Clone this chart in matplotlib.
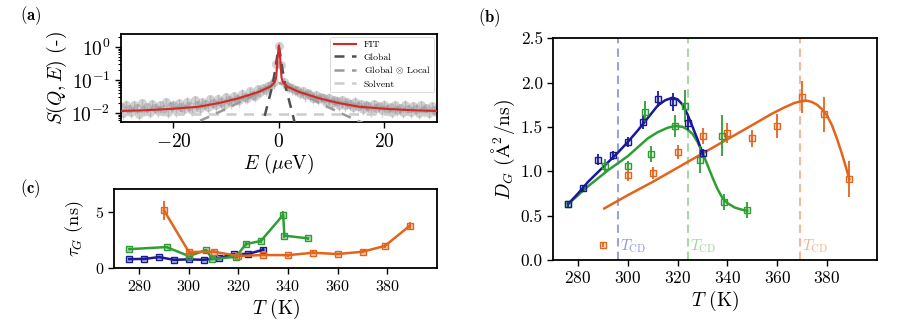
import numpy as np
import matplotlib
matplotlib.use("Agg")
import matplotlib.pyplot as plt

plt.rcParams['font.family'] = 'serif'
plt.rcParams['font.serif'] = ['cmr10']
plt.rcParams['mathtext.fontset'] = 'cm'
plt.rcParams['axes.formatter.use_mathtext'] = True
plt.rcParams['axes.unicode_minus'] = True

# ---------------- panel (a) data ----------------
E_data = np.linspace(-30, 30, 121)
S_data = [0.015, 0.010, 0.018, 0.013, 0.011, 0.017, 0.014, 0.0095, 0.020, 0.0125,
          0.015, 0.011, 0.019, 0.014, 0.012, 0.017, 0.0128, 0.021, 0.011, 0.016,
          0.018, 0.012, 0.020, 0.015, 0.013, 0.022, 0.016, 0.0125, 0.024, 0.017,
          0.014, 0.021, 0.019, 0.015, 0.026, 0.020, 0.017, 0.027, 0.022, 0.018,
          0.030, 0.024, 0.021, 0.033, 0.027, 0.024, 0.039, 0.031, 0.028, 0.045,
          0.036, 0.033, 0.052, 0.044, 0.058, 0.050, 0.066, 0.072, 0.085, 0.30,
          1.05,
          0.28, 0.09, 0.068, 0.062, 0.056, 0.049, 0.050, 0.040, 0.045, 0.034,
          0.040, 0.036, 0.029, 0.035, 0.026, 0.031, 0.028, 0.022, 0.029, 0.020,
          0.025, 0.023, 0.018, 0.024, 0.017, 0.021, 0.019, 0.015, 0.022, 0.016,
          0.019, 0.013, 0.018, 0.016, 0.012, 0.019, 0.014, 0.0165, 0.012, 0.018,
          0.013, 0.015, 0.011, 0.017, 0.0125, 0.014, 0.0105, 0.018, 0.013, 0.011,
          0.016, 0.0135, 0.010, 0.017, 0.012, 0.014, 0.0098, 0.016, 0.0125, 0.011]

E_fit = [-30, -25, -20, -15.2, -11.4, -7.6, -3.8, -1.6, -0.8, -0.5, -0.25, 0,
         0.25, 0.5, 0.8, 1.6, 3.8, 7.6, 11.4, 15.2, 20, 25, 30]
S_fit = [0.0115, 0.0122, 0.0135, 0.0155, 0.020, 0.028, 0.044, 0.063, 0.085, 0.12, 0.45, 1.12,
         0.45, 0.12, 0.085, 0.063, 0.044, 0.028, 0.020, 0.0155, 0.0135, 0.0122, 0.0115]

E_glob = [-3.5, -2.9, -2.0, -1.3, -0.7, -0.3, 0, 0.3, 0.7, 1.3, 2.0, 2.9, 3.5]
S_glob = [0.0025, 0.006, 0.022, 0.06, 0.2, 0.55, 1.0, 0.55, 0.2, 0.06, 0.022, 0.006, 0.0025]

E_gl = [-18, -15, -12, -9, -6, -3, -1, 0, 1, 3, 6, 9, 12, 15, 18]
S_gl = [0.0036, 0.0058, 0.0095, 0.016, 0.028, 0.05, 0.075, 0.08, 0.075, 0.05, 0.028, 0.016,
        0.0095, 0.0058, 0.0036]

E_solv = [-30, 30]
S_solv = [0.0091, 0.0091]

# ---------------- panel (b) data ----------------
T_blue = [276, 282, 288, 294, 300, 306, 312, 318, 324, 330]
D_blue = [0.63, 0.81, 1.13, 1.18, 1.33, 1.55, 1.81, 1.78, 1.54, 1.20]
D_blue_err = [0.03, 0.04, 0.06, 0.05, 0.06, 0.07, 0.09, 0.10, 0.08, 0.05]

T_green = [276, 291, 300, 307, 309.5, 319, 323, 329, 338, 338.5, 348]
D_green = [0.63, 1.06, 1.06, 1.67, 1.19, 1.51, 1.73, 1.13, 1.40, 0.65, 0.56]
D_green_err = [0.03, 0.08, 0.05, 0.12, 0.09, 0.12, 0.18, 0.15, 0.23, 0.09, 0.09]

T_orange = [290, 300, 310, 320, 330, 340, 350, 360, 370, 379, 389]
D_orange = [0.17, 0.96, 0.98, 1.22, 1.40, 1.43, 1.37, 1.51, 1.84, 1.64, 0.91]
D_orange_err = [0.03, 0.07, 0.07, 0.08, 0.09, 0.11, 0.10, 0.14, 0.18, 0.20, 0.20]

Tfit_blue = [276, 280, 284, 288, 292, 296, 300, 304, 308, 312, 315, 318, 320, 322, 324, 326, 328, 330]
Dfit_blue = [0.63, 0.75, 0.88, 0.99, 1.10, 1.21, 1.33, 1.46, 1.60, 1.74, 1.80, 1.83, 1.81, 1.75,
             1.64, 1.50, 1.36, 1.20]

Tfit_green = [276, 280, 284, 288, 292, 296, 300, 304, 308, 312, 316, 319, 322, 324, 326, 328,
              330, 332, 334, 336, 338, 340, 343, 346, 348]
Dfit_green = [0.63, 0.73, 0.83, 0.92, 1.01, 1.09, 1.17, 1.27, 1.37, 1.44, 1.49, 1.51, 1.50, 1.47,
              1.42, 1.33, 1.21, 1.07, 0.93, 0.80, 0.70, 0.64, 0.59, 0.565, 0.555]

Tfit_orange = [290.5, 300, 310, 320, 330, 340, 350, 358, 363, 367, 370, 372, 374, 376, 378, 380,
               382, 384, 386, 388, 389]
Dfit_orange = [0.58, 0.73, 0.88, 1.04, 1.20, 1.36, 1.52, 1.65, 1.72, 1.77, 1.79, 1.795, 1.78, 1.75,
               1.70, 1.63, 1.52, 1.37, 1.20, 1.01, 0.91]

T_cd = [296, 324, 369]

# ---------------- panel (c) data ----------------
tau_blue = [0.82, 0.84, 1.0, 0.76, 0.80, 0.76, 0.90, 1.26, 1.28, 1.65]
tau_blue_err = [0.08, 0.08, 0.1, 0.08, 0.08, 0.08, 0.08, 0.1, 0.1, 0.15]
tau_green = [1.70, 1.88, 1.09, 1.62, 0.82, 1.03, 2.15, 2.41, 4.71, 2.88, 2.65]
tau_green_err = [0.12, 0.12, 0.1, 0.12, 0.1, 0.1, 0.15, 0.15, 0.3, 0.2, 0.15]
tau_orange = [5.1, 1.45, 1.47, 1.10, 1.18, 1.17, 1.38, 1.27, 1.47, 1.98, 3.75]
tau_orange_err = [0.8, 0.15, 0.15, 0.12, 0.12, 0.12, 0.12, 0.12, 0.15, 0.15, 0.3]

# colors
c_blue = '#1a1a96'
c_green = '#2e9e34'
c_orange = '#e3641c'

fig = plt.figure(figsize=(9.01, 3.29), dpi=100)

# ---------------- panel (a) ----------------
axa = fig.add_axes([0.134, 0.628, 0.351, 0.269])
S_arr = np.array(S_data)
axa.errorbar(E_data, S_arr, yerr=0.35 * S_arr, fmt='o', ms=6.5, color='#8f8f8f',
             alpha=0.4, elinewidth=1.0, mec='none', zorder=1)
axa.plot(E_fit, S_fit, color='#d62728', lw=1.5, label='FIT', zorder=4)
axa.plot(E_glob, S_glob, color='#505050', lw=1.8, ls=(0, (4, 3)), label='Global', zorder=3)
axa.plot(E_gl, S_gl, color='#9a9a9a', lw=1.8, ls=(0, (4, 3)), label=r'Global $\otimes$ Local', zorder=3)
axa.plot(E_solv, S_solv, color='#cccccc', lw=1.8, ls=(0, (4, 3)), label='Solvent', zorder=2)
axa.set_yscale('log')
axa.set_xlim(-30, 30)
axa.set_ylim(0.0052, 2.5)
axa.set_xticks([-20, 0, 20])
axa.tick_params(labelsize=14, length=4, width=1)
axa.tick_params(which='minor', length=2.5, width=0.8)
axa.set_xlabel(r'$E$ ($\mu$eV)', fontsize=14, labelpad=1)
axa.set_ylabel(r'$S(Q,E)$ (-)', fontsize=14, labelpad=2)
leg = axa.legend(loc='upper right', fontsize=7, handlelength=2.2, borderaxespad=0.3,
                 labelspacing=0.35, frameon=True, fancybox=True)
leg.get_frame().set_linewidth(0.6)
for s in axa.spines.values():
    s.set_linewidth(1.3)

# ---------------- panel (b) ----------------
axb = fig.add_axes([0.614, 0.210, 0.359, 0.674])
for T, D, Derr, Tf, Df, col in [
        (T_orange, D_orange, D_orange_err, Tfit_orange, Dfit_orange, c_orange),
        (T_green, D_green, D_green_err, Tfit_green, Dfit_green, c_green),
        (T_blue, D_blue, D_blue_err, Tfit_blue, Dfit_blue, c_blue)]:
    axb.plot(Tf, Df, color=col, lw=1.8, zorder=3)
    axb.errorbar(T, D, yerr=Derr, fmt='s', ms=5, color=col, mfc=matplotlib.colors.to_rgba(col, 0.15),
                 mec=col, mew=1.0, elinewidth=1.3, zorder=4, ls='none')
for tc, col in zip(T_cd, ['#8090c8', '#90d090', '#f0a880']):
    axb.axvline(tc, color=col, alpha=0.8, lw=1.5, ls=(0, (4, 2.5)), zorder=1)
    axb.text(tc + 0.8, 0.16, r'$T_{\rm CD}$', color=col, alpha=0.9, fontsize=11,
             va='center', ha='left')
axb.set_xlim(270, 400)
axb.set_ylim(0, 2.5)
axb.set_xticks([280, 300, 320, 340, 360, 380])
axb.set_yticks([0.0, 0.5, 1.0, 1.5, 2.0, 2.5])
axb.yaxis.set_major_formatter(matplotlib.ticker.FormatStrFormatter('%.1f'))
axb.tick_params(labelsize=12.5, length=4, width=1)
axb.set_xlabel(r'$T$ (K)', fontsize=14, labelpad=2)
axb.set_ylabel(r'$D_G$ ($\mathrm{\AA}^2$/ns)', fontsize=14, labelpad=3)
for s in axb.spines.values():
    s.set_linewidth(1.3)

# ---------------- panel (c) ----------------
axc = fig.add_axes([0.127, 0.184, 0.358, 0.242])
for T, tau, terr, col in [(T_blue, tau_blue, tau_blue_err, c_blue),
                          (T_green, tau_green, tau_green_err, c_green),
                          (T_orange, tau_orange, tau_orange_err, c_orange)]:
    axc.errorbar(T, tau, yerr=terr, fmt='-s', ms=5, color=col, lw=1.8,
                 mfc=matplotlib.colors.to_rgba(col, 0.35), mec=col, mew=1.0, elinewidth=1.3)
axc.set_xlim(270, 400)
axc.set_ylim(0, 7)
axc.set_xticks([280, 300, 320, 340, 360, 380])
axc.set_yticks([0, 5])
axc.tick_params(labelsize=11.5, length=4, width=1)
axc.set_xlabel(r'$T$ (K)', fontsize=14, labelpad=2)
axc.set_ylabel(r'$\tau_G$ (ns)', fontsize=13, labelpad=6)
for s in axc.spines.values():
    s.set_linewidth(1.3)

fig.text(0.022, 0.953, r'$\mathbf{(a)}$', fontsize=12, va='center')
fig.text(0.022, 0.428, r'$\mathbf{(c)}$', fontsize=12, va='center')
fig.text(0.530, 0.945, r'$\mathbf{(b)}$', fontsize=12, va='center')

fig.savefig('out.png', dpi=100)
